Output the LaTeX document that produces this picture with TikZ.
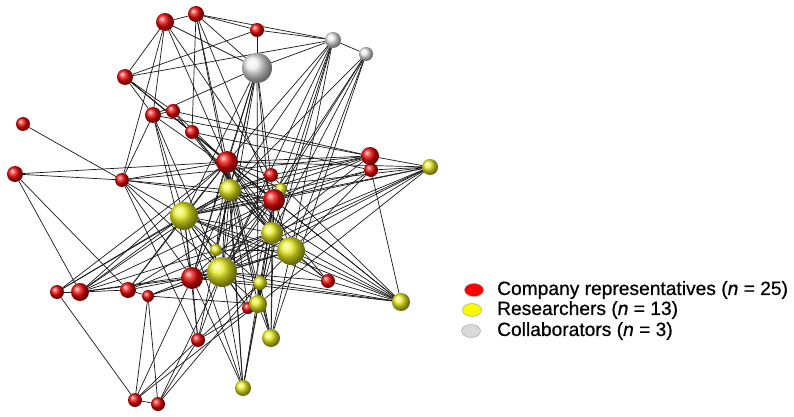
\documentclass[tikz,border=0pt]{standalone}
\usepackage{fontspec}
\setmainfont{Liberation Sans}[FakeBold=0.6]
\usetikzlibrary{shapes.geometric}
\pgfdeclarelayer{bottom}
\pgfdeclarelayer{edges}
\pgfsetlayers{bottom,edges,main}
\newcommand\mynd[5]{\node[#1, minimum size=#5pt] (#2) at (#3,#4) {};}
\tikzset{
  ballnode/.style={circle, inner sep=0pt, outer sep=0pt, shading=ball},
  rn/.style={ballnode, ball color={rgb,255:red,235;green,10;blue,10}},
  yn/.style={ballnode, ball color={rgb,255:red,232;green,238;blue,30}},
  gn/.style={ballnode, ball color=black!8},
  edge/.style={draw=black!90, line width=0.7pt},
  legmark/.style={ellipse, draw=black!40, line width=0.4pt, minimum width=19pt, minimum height=13pt, inner sep=0pt},
  legtext/.style={anchor=west, inner sep=0pt, font=\fontsize{19.2}{21}\selectfont}
}
\begin{document}
\begin{tikzpicture}[x=1pt,y=-1pt]
\begin{pgfonlayer}{bottom}
\fill[white] (0,0) rectangle (794,417);
\end{pgfonlayer}
\useasboundingbox (0,0) rectangle (794,417);
\mynd{yn}{Y13}{281}{189}{12}
% red nodes
\mynd{rn}{R1}{165}{22}{18}
\mynd{rn}{R2}{196}{14}{16}
\mynd{rn}{R3}{257}{30}{14}
\mynd{rn}{R4}{125}{77}{16}
\mynd{rn}{R5}{153}{115}{16}
\mynd{rn}{R6}{173}{111}{14}
\mynd{rn}{R7}{192}{132}{14}
\mynd{rn}{R8}{23}{124}{14}
\mynd{rn}{R9}{15}{174}{16}
\mynd{rn}{R10}{122}{180}{14}
\mynd{rn}{R11}{227}{162}{22}
\mynd{rn}{R12}{271}{175}{14}
\mynd{rn}{R13}{274}{200}{22}
\mynd{rn}{R15}{371}{170}{14}
\mynd{rn}{R14}{370}{156}{18}
\mynd{rn}{R16}{192}{278}{22}
\mynd{rn}{R17}{57}{292}{14}
\mynd{rn}{R18}{80}{292}{18}
\mynd{rn}{R19}{128}{290}{16}
\mynd{rn}{R20}{148}{296}{12}
\mynd{rn}{R21}{198}{340}{14}
\mynd{rn}{R22}{328}{281}{14}
\mynd{rn}{R23}{135}{400}{14}
\mynd{rn}{R24}{158}{404}{14}
\mynd{rn}{R25}{248}{308}{12}
% yellow nodes
\mynd{yn}{Y1}{430}{167}{16}
\mynd{yn}{Y2}{230}{190}{22}
\mynd{yn}{Y3}{184}{216}{28}
\mynd{yn}{Y4}{272}{233}{22}
\mynd{yn}{Y5}{291}{251}{28}
\mynd{yn}{Y6}{216}{250}{12}
\mynd{yn}{Y7}{222}{272}{30}
\mynd{yn}{Y8}{260}{283}{14}
\mynd{yn}{Y9}{258}{304}{18}
\mynd{yn}{Y10}{271}{338}{18}
\mynd{yn}{Y11}{243}{388}{16}
\mynd{yn}{Y12}{401}{302}{18}
% grey nodes
\mynd{gn}{G1}{257}{68}{30}
\mynd{gn}{G2}{333}{40}{16}
\mynd{gn}{G3}{366}{54}{14}
\begin{pgfonlayer}{edges}
\foreach \a/\b in {
R1/R2, R1/R4, R1/R5, R1/R10, R1/G1, R1/R11, R1/R12,
R2/R3, R2/G2, R2/R7, R2/R11, R2/G1, R2/R13, R2/Y2,
R3/G1, R3/R4, R3/G2,
G1/G2, G1/R5, G1/R11, G1/Y2, G1/R13, G1/Y4, G1/Y6, G1/Y7, G1/R16, G1/Y9, G1/Y3,
G2/G3, G2/R13, G2/Y4, G2/Y5, G2/Y2, G2/Y9, G2/R11, G2/Y7,
G3/R13, G3/Y4, G3/Y5, G3/Y7, G3/Y2, G3/Y10,
R4/R5, R4/R6, R4/R7, R4/R11, R4/R13, R4/G2,
R5/R6, R5/R10, R5/Y3, R5/R16, R5/Y7, R5/R13, R5/R14,
R6/R11, R6/R14, R6/Y4,
R7/R11, R7/R13, R7/Y4, R7/R15, R7/Y5,
R8/R10,
R9/R10, R9/R11, R9/R18, R9/R19,
R10/R11, R10/R13, R10/Y3, R10/R16, R10/Y7, R10/R14, R10/Y2, R10/R21,
R11/R14, R11/Y2, R11/R13, R11/Y3, R11/Y4, R11/Y5, R11/Y7, R11/R12, R11/Y1, R11/Y6, R11/R16,
R12/Y2, R12/Y3, R12/Y7, R12/R14, R12/Y12,
R13/Y2, R13/Y3, R13/Y4, R13/Y5, R13/Y7, R13/R14, R13/R15, R13/Y1, R13/Y12, R13/R16, R13/Y13,
R14/R15, R14/Y1, R14/Y2, R14/Y3, R14/Y4,
R15/Y1, R15/Y12, R15/Y7, R15/Y3, R15/Y5,
Y1/Y2, Y1/Y3, Y1/Y4, Y1/Y5, Y1/Y7, Y1/R16, Y1/Y9,
Y12/R22, Y12/Y4, Y12/Y5, Y12/Y2, Y12/Y7, Y12/Y8, Y12/R11, Y12/Y3, Y12/R16,
R22/Y5, R22/Y7, R22/Y4, R22/R11, R22/Y3,
Y2/Y3, Y2/Y4, Y2/Y5, Y2/Y7, Y2/R16, Y2/Y6,
Y3/Y7, Y3/Y5, Y3/R16, Y3/Y4, Y3/Y8,
Y4/Y5, Y4/Y7, Y4/R16, Y4/Y9,
Y5/Y7, Y5/R16, Y5/Y8,
Y6/Y5, Y6/Y3,
Y7/R16, Y7/Y8, Y7/Y9,
Y13/R11, R16/Y8,
R17/R18, R17/R23, R17/Y3, R17/R11, R17/Y2,
R18/R19, R18/Y3, R18/Y2, R18/R11, R18/R16, R18/Y4, R18/R13, R18/Y7,
R19/R20, R19/Y3, R19/R11, R19/Y7, R19/Y4, R19/R13,
R20/R16, R20/R23, R20/R24, R20/Y7, R20/Y5, R20/Y9,
R21/R23, R21/R24, R21/Y3, R21/Y7, R21/R16, R21/Y2, R21/Y8, R21/Y9,
R23/R24, R23/R16, R23/Y9,
R24/Y7, R24/Y8,
R25/Y7, R25/Y3, R25/R11, R25/Y9, R25/R13,
Y8/Y9, Y8/R13,
Y9/R13, Y9/Y10, Y9/Y11, Y9/R11,
Y10/Y4, Y10/Y5, Y10/R13, Y10/Y8, Y10/R11, Y10/Y2,
Y11/Y7, Y11/R16, Y11/Y3, Y11/Y2, Y11/Y8, Y11/R11, Y11/Y4}
  \draw[edge] (\a) -- (\b);
\end{pgfonlayer}
% legend
\node[legmark, fill=red] (Lr) at (474,290) {};
\node[legmark, fill={rgb,255:red,250;green,250;blue,0}] (Ly) at (472,310) {};
\node[legmark, fill=black!15] (Lg) at (471,331) {};
\node[legtext] (Tr) at (497,290) {Company representatives (\textit{n} = 25)};
\node[legtext] (Ty) at (497,310) {Researchers (\textit{n} = 13)};
\node[legtext] (Tg) at (497,331) {Collaborators (\textit{n} = 3)};
\end{tikzpicture}
\end{document}
